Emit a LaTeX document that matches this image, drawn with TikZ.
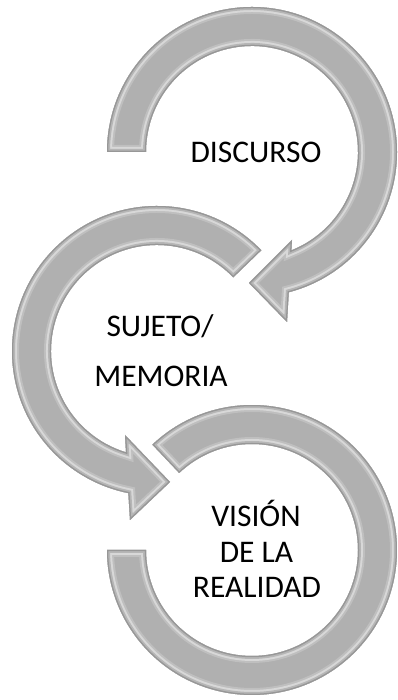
\documentclass[tikz,border=0pt]{standalone}
\usepackage{fontspec}
\setmainfont{Carlito}
\usetikzlibrary{calc}
\definecolor{arcmid}{HTML}{B0B0B0}
\definecolor{arcsoft}{HTML}{BFBFBF}
\definecolor{arclight}{HTML}{D8D8D8}
\definecolor{arcinner}{HTML}{B6B6B6}
\definecolor{arcdark}{HTML}{979797}
\def\pathA{($(C1)+(180:145pt)$) arc[start angle=180,end angle=-75.3,radius=145pt] -- (287,378) -- (249,417) -- (292,460) -- ($(C1)+(-68.2:106pt)$) arc[start angle=-68.2,end angle=180,radius=106pt] -- cycle}
\def\pathB{($(C2)+(44:145pt)$) arc[start angle=44,end angle=258.6,radius=145pt] -- (130,180) -- (170,218) -- (125,265) -- ($(C2)+(253:106pt)$) arc[start angle=253,end angle=44,radius=106pt] -- cycle}
\def\pathC{($(C3)+(133.4:145pt)$) arc[start angle=133.4,end angle=-180,radius=145pt] -- ($(C3)+(180:106pt)$) arc[start angle=-180,end angle=133.4,radius=106pt] -- cycle}
\begin{document}
\begin{tikzpicture}[x=1pt,y=1pt,
  lbl/.style={font=\fontsize{31.5}{36}\selectfont, text=black, inner sep=0pt, anchor=base},
  bev1/.style={arcsoft, line width=14pt},
  bev2/.style={arclight, line width=10pt},
  bev3/.style={arcinner, line width=6pt},
  bev4/.style={arcdark, line width=2.5pt}]
\useasboundingbox (0,0) rectangle (398,700);
\coordinate (C1) at (252,548);
\coordinate (C2) at (157,349);
\coordinate (C3) at (252,150);
% arrow 1
\fill[arcmid] \pathA;
\begin{scope}\clip \pathA; \draw[bev1] \pathA; \draw[bev2] \pathA; \draw[bev3] \pathA; \draw[bev4] \pathA; \end{scope}
% arrow 2
\fill[arcmid] \pathB;
\begin{scope}\clip \pathB; \draw[bev1] \pathB; \draw[bev2] \pathB; \draw[bev3] \pathB; \draw[bev4] \pathB; \end{scope}
% arc 3
\fill[arcmid] \pathC;
\begin{scope}\clip \pathC; \draw[bev1] \pathC; \draw[bev2] \pathC; \draw[bev3] \pathC; \draw[bev4] \pathC; \end{scope}
% labels
\node[lbl] (t1) at (256,537) {DISCURSO};
\node[lbl] (t2a) at (160,363) {SUJETO/};
\node[lbl] (t2b) at (161,313) {MEMORIA};
\node[lbl] (t3a) at (256,173) {VISIÓN};
\node[lbl] (t3b) at (256.5,137) {DE LA};
\node[lbl] (t3c) at (257,102) {REALIDAD};
\end{tikzpicture}
\end{document}
